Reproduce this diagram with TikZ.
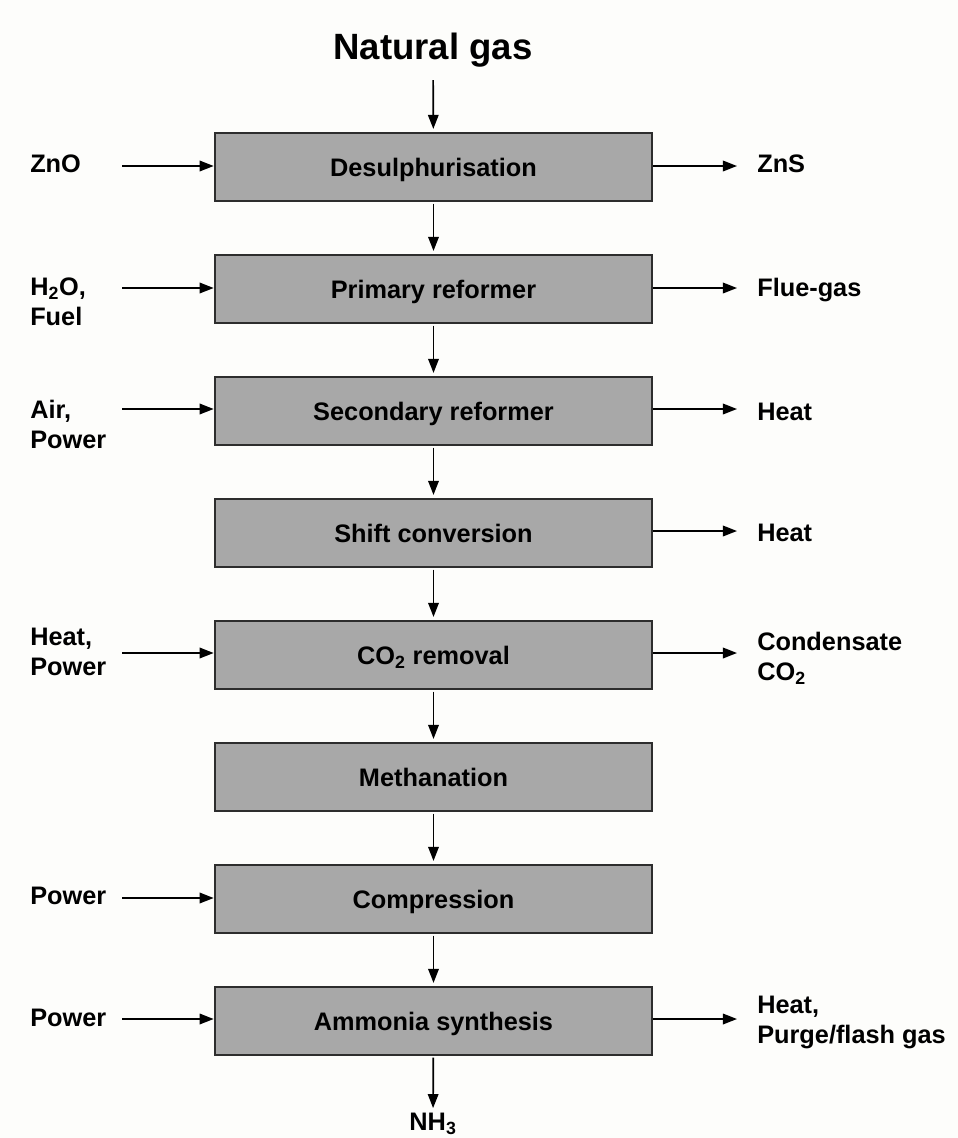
\documentclass[tikz,border=0pt]{standalone}
\usepackage{fontspec}
\setmainfont{Liberation Sans}
\usetikzlibrary{arrows.meta}
\definecolor{boxgray}{RGB}{168,168,168}
\definecolor{boxline}{RGB}{45,45,45}
\definecolor{paper}{RGB}{253,253,251}
\begin{document}
\begin{tikzpicture}[x=0.025cm, y=-0.025cm,
    every node/.style={font=\bfseries\fontsize{18}{21.3}\selectfont, inner sep=0pt},
    unit/.style={draw=boxline, line width=1.8pt, fill=boxgray, minimum width=10.925cm, minimum height=1.7cm, text depth=0pt},
    flow/.style={-{Triangle[length=10pt, width=7.5pt]}, line width=1.2pt},
    lab/.style={anchor=north west, align=left}]
    \fill[paper] (0,0) rectangle (958,1138);
    % feed
    \node (natgas) at (433, 50) {\fontsize{26}{30}\selectfont Natural gas};
    % process units
    \node[unit] (desulph) at (433.5, 167) {Desulphurisation};
    \node[unit] (primary) at (433.5, 289) {Primary reformer};
    \node[unit] (secondary) at (433.5, 411) {Secondary reformer};
    \node[unit] (shift) at (433.5, 533) {Shift conversion};
    \node[unit] (coremoval) at (433.5, 655) {CO\textsubscript{2} removal};
    \node[unit] (methan) at (433.5, 777) {Methanation};
    \node[unit] (compress) at (433.5, 899) {Compression};
    \node[unit] (synth) at (433.5, 1021) {Ammonia synthesis};
    \node[anchor=base] (nh3) at (433, 1130) {NH\textsubscript{3}};
    % main line
    \draw[flow, shorten <=9pt, shorten >=2pt] (natgas) -- (desulph);
    \draw[flow, shorten <=1pt, shorten >=2pt] (desulph) -- (primary);
    \draw[flow, shorten <=1pt, shorten >=2pt] (primary) -- (secondary);
    \draw[flow, shorten <=1pt, shorten >=2pt] (secondary) -- (shift);
    \draw[flow, shorten <=1pt, shorten >=2pt] (shift) -- (coremoval);
    \draw[flow, shorten <=1pt, shorten >=2pt] (coremoval) -- (methan);
    \draw[flow, shorten <=1pt, shorten >=2pt] (methan) -- (compress);
    \draw[flow, shorten <=1pt, shorten >=2pt] (compress) -- (synth);
    \draw[flow, shorten <=1pt, shorten >=3pt] (synth) -- (nh3);
    % inputs (left)
    \node[lab] (zno) at (30, 155) {ZnO};
    \node[lab] (water) at (30, 278) {H\textsubscript{2}O,\\Fuel};
    \node[lab] (air) at (30, 400) {Air,\\Power};
    \node[lab] (heatin) at (30, 628) {Heat,\\Power};
    \node[lab] (powera) at (30, 887) {Power};
    \node[lab] (powerb) at (30, 1009) {Power};
    \coordinate (zno-in) at (122, 166);
    \coordinate (water-in) at (122, 288);
    \coordinate (air-in) at (122, 409);
    \coordinate (heat-in) at (122, 653);
    \coordinate (powera-in) at (122, 898);
    \coordinate (powerb-in) at (122, 1019);
    \draw[flow] (zno-in) -- (zno-in -| desulph.west);
    \draw[flow] (water-in) -- (water-in -| primary.west);
    \draw[flow] (air-in) -- (air-in -| secondary.west);
    \draw[flow] (heat-in) -- (heat-in -| coremoval.west);
    \draw[flow] (powera-in) -- (powera-in -| compress.west);
    \draw[flow] (powerb-in) -- (powerb-in -| synth.west);
    % outputs (right)
    \node[lab] (zns) at (757, 155) {ZnS};
    \node[lab] (flue) at (757, 278) {Flue-gas};
    \node[lab] (heata) at (757, 403) {Heat};
    \node[lab] (heatb) at (757, 524) {Heat};
    \node[lab] (cond) at (757, 632) {Condensate\\CO\textsubscript{2}};
    \node[lab] (purge) at (757, 996) {Heat,\\Purge/flash gas};
    \coordinate (zns-out) at (737, 166);
    \coordinate (flue-out) at (737, 288);
    \coordinate (heata-out) at (737, 409);
    \coordinate (heatb-out) at (737, 531);
    \coordinate (cond-out) at (737, 653);
    \coordinate (purge-out) at (737, 1019);
    \draw[flow] (zns-out -| desulph.east) -- (zns-out);
    \draw[flow] (flue-out -| primary.east) -- (flue-out);
    \draw[flow] (heata-out -| secondary.east) -- (heata-out);
    \draw[flow] (heatb-out -| shift.east) -- (heatb-out);
    \draw[flow] (cond-out -| coremoval.east) -- (cond-out);
    \draw[flow] (purge-out -| synth.east) -- (purge-out);
\end{tikzpicture}
\end{document}
